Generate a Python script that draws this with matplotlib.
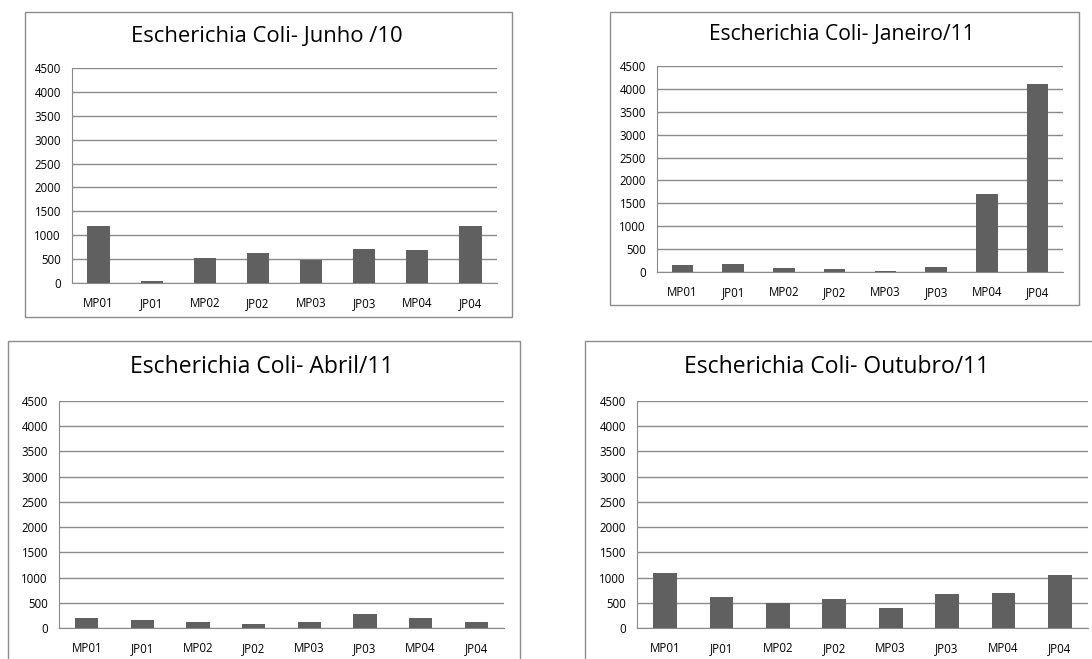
import matplotlib
matplotlib.use("Agg")
import matplotlib.pyplot as plt
from matplotlib.patches import Rectangle
import numpy as np

plt.rcParams['font.family'] = ['Open Sans', 'DejaVu Sans']

W, H = 1092, 659

sites = ['MP01', 'JP01', 'MP02', 'JP02', 'MP03', 'JP03', 'MP04', 'JP04']
yticks = [0, 500, 1000, 1500, 2000, 2500, 3000, 3500, 4000, 4500]

junho_10 = [1200, 50, 520, 630, 490, 710, 700, 1200]
janeiro_11 = [160, 180, 80, 60, 30, 100, 1700, 4100]
abril_11 = [200, 160, 120, 80, 120, 270, 200, 120]
outubro_11 = [1100, 610, 490, 570, 390, 670, 700, 1050]

titles = ['Escherichia Coli- Junho /10', 'Escherichia Coli- Janeiro/11',
          'Escherichia Coli- Abril/11', 'Escherichia Coli- Outubro/11']

# pixel layouts: frame box, plot area, title centre, title size
layout = [
    dict(box=(25, 12, 512, 317), plot=(72, 68, 497, 283), title=(267, 37), ts=15.8),
    dict(box=(610, 12, 1079, 305), plot=(657, 66, 1063, 272), title=(842, 35), ts=15.2),
    dict(box=(8, 341, 520, 700), plot=(59, 401, 504, 628), title=(262, 367), ts=16.5),
    dict(box=(585, 341, 1100, 700), plot=(637, 401, 1088, 628), title=(837, 367), ts=16.5),
]

fig = plt.figure(figsize=(W / 100, H / 100), dpi=100)


def fig_rect(l, t, r, b):
    return [l / W, 1 - b / H, (r - l) / W, (b - t) / H]


for data, title, lay in zip([junho_10, janeiro_11, abril_11, outubro_11], titles, layout):
    l, t, r, b = lay['box']
    fig.patches.append(Rectangle((l / W, 1 - b / H), (r - l) / W, (b - t) / H,
                                 transform=fig.transFigure, fill=False,
                                 edgecolor='#8c8c8c', linewidth=1.0))
    ax = fig.add_axes(fig_rect(*lay['plot']))
    x = np.arange(len(sites))
    ax.bar(x, data, width=0.42, color='#606060', zorder=3)
    ax.set_xlim(-0.5, len(sites) - 0.5)
    ax.set_ylim(0, 4500)
    ax.set_yticks(yticks)
    ax.set_xticks(x)
    ax.set_xticklabels(sites)
    ax.yaxis.grid(True, color='#8a8a8a', linewidth=1.0, zorder=0)
    for s in ['top', 'right']:
        ax.spines[s].set_visible(False)
    ax.spines['left'].set_color('#8a8a8a')
    ax.spines['bottom'].set_color('#8a8a8a')
    ax.tick_params(length=0, labelsize=8.3, pad=8, colors='black')
    ax.tick_params(axis='x', pad=10)
    fig.text(lay['title'][0] / W, 1 - lay['title'][1] / H, title,
             ha='center', va='center', fontsize=lay['ts'])

fig.savefig('out.png', dpi=100, facecolor='white')
